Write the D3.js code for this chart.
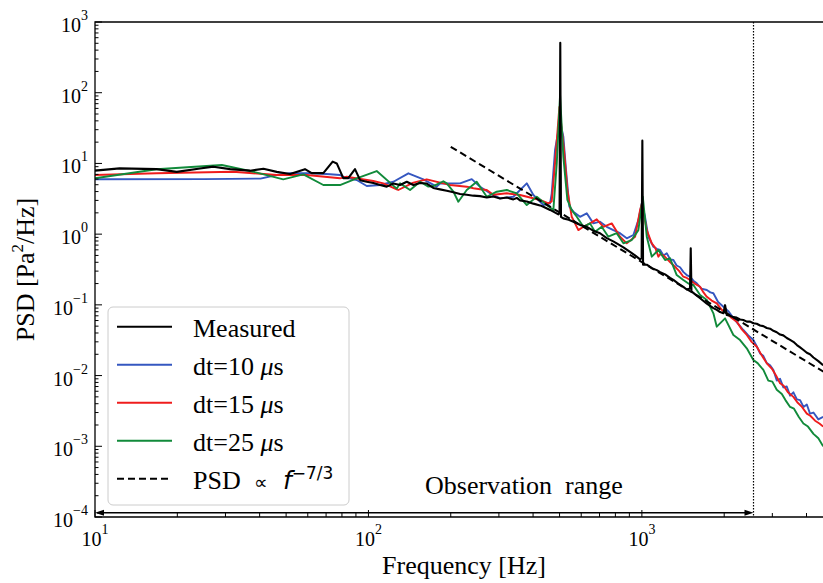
<!DOCTYPE html>
<html>
<head>
<meta charset="utf-8">
<script src="https://cdn.jsdelivr.net/npm/d3@7"></script>
<style>
body { margin: 0; background: #fff; }
text { font-family: "Liberation Serif", "Times New Roman", serif; fill: #000; }
</style>
</head>
<body>
<div id="chart"></div>
<script>
/* values: [frequency Hz, PSD Pa^2/Hz] */
const measured = [[10,7.9],[12.3,8.5],[16.8,8.3],[19.9,7.6],[24.2,8.5],[27.1,9.0],[31.2,8.3],[36.9,7.9],[41.3,8.4],[46.2,7.6],[51.7,7.1],[58.6,8.3],[62.0,7.3],[68.4,7.3],[74.0,10.6],[76.6,10.0],[80.9,6.2],[84.4,6.2],[89.3,8.3],[93.2,5.8],[98.6,5.5],[104.2,5.3],[110.3,4.95],[116.7,4.7],[123.4,5.2],[130.5,4.95],[138.1,5.5],[146,4.95],[154.5,5.3],[163.4,5.2],[172.7,4.5],[182.7,4.3],[193.4,4.1],[204.5,3.9],[216.3,3.7],[228.8,3.6],[241.9,3.5],[256,3.45],[270.9,3.3],[286.3,3.4],[302.9,3.2],[320.6,3.3],[338.8,3.1],[348.7,3.25],[358.5,3.0],[379.3,2.9],[401.1,2.7],[424.3,2.55],[436.3,2.44],[461.5,2.2],[474.5,2.08],[495,1.9],[500,2.0],[503,510],[506,1.75],[516,1.67],[540,1.6],[562,1.5],[594,1.35],[629,1.27],[664,1.12],[703,1.03],[744,0.88],[786,0.79],[809,0.74],[856,0.65],[905,0.56],[944,0.50],[985,0.44],[998,0.46],[1004,21],[1010,0.37],[1042,0.37],[1087,0.33],[1134,0.31],[1166,0.29],[1216,0.27],[1268,0.24],[1304,0.225],[1359,0.2],[1418,0.18],[1459,0.165],[1500,0.17],[1509,0.63],[1518,0.155],[1588,0.135],[1633,0.124],[1728,0.104],[1826,0.09],[1879,0.085],[1932,0.079],[1987,0.076],[2015,0.099],[2044,0.072],[2100,0.070],[2161,0.067],[2220,0.066],[2286,0.062],[2350,0.061],[2419,0.058],[2490,0.058],[2557,0.055],[2630,0.054],[2706,0.051],[2780,0.050],[2863,0.047],[2944,0.046],[3027,0.043],[3114,0.041],[3202,0.038],[3290,0.037],[3388,0.034],[3484,0.032],[3582,0.030],[3690,0.027],[3790,0.025],[3900,0.023],[4011,0.021],[4120,0.020],[4241,0.018],[4420,0.016],[4602,0.014]];

const dt10 = [[10,5.96],[25,6.0],[40.3,6.1],[46.2,6.86],[51.7,7.25],[62.9,7.25],[72.4,7.02],[78.7,6.86],[80.9,6.49],[90.6,5.83],[98.6,4.79],[110.3,4.95],[123.4,5.51],[140,7.25],[158.8,5.96],[177.7,4.69],[182.7,5.2],[216.3,5.23],[238.7,6.0],[256,4.69],[278.5,3.78],[302.9,3.21],[338.8,3.38],[379.3,5.23],[401.1,3.58],[436.3,2.58],[461.5,2.73],[468.1,3.78],[481.3,15.5],[502.1,40],[516.2,23.9],[528,8.07],[543,2.44],[561.6,2.08],[594,1.76],[628.6,1.97],[664.6,1.42],[703,1.5],[744,1.27],[786.6,1.14],[832,1.03],[880.6,0.873],[931,0.972],[971,1.58],[999,2.73],[1027,1.76],[1056,0.92],[1102,0.664],[1134,0.62],[1166,0.597],[1200,0.50],[1233,0.536],[1270,0.44],[1304,0.431],[1340,0.36],[1379,0.34],[1420,0.29],[1459,0.264],[1500,0.25],[1543,0.22],[1588,0.202],[1650,0.17],[1728,0.162],[1780,0.15],[1826,0.146],[1900,0.11],[1987,0.0941],[2080,0.08],[2161,0.065],[2250,0.054],[2350,0.0441],[2450,0.037],[2557,0.0318],[2630,0.026],[2706,0.0206],[2780,0.019],[2863,0.015],[2944,0.014],[3027,0.012],[3114,0.0085],[3202,0.009],[3292,0.0068],[3388,0.007],[3484,0.0052],[3582,0.0058],[3690,0.0046],[3790,0.0045],[3900,0.0036],[4011,0.0039],[4120,0.0029],[4241,0.003],[4420,0.0024],[4602,0.0026]];

const dt15 = [[10,6.86],[16.8,7.25],[32,7.64],[46.2,6.86],[59.5,6.86],[78.7,6.16],[83.3,6.49],[104.2,5.65],[113.4,5.23],[126.9,4.31],[128.6,4.21],[146,5.34],[163.4,5.96],[187.9,5.23],[198.9,4.95],[228.8,4.69],[241.9,4.45],[256,4.31],[270.9,4.21],[286.3,3.6],[320.6,3.78],[358.5,3.58],[424.3,3.04],[454.9,2.73],[468,2.9],[481.3,10],[499.2,63],[519,15.5],[534,4.21],[554,1.76],[585.7,1.14],[610.9,1.27],[646.4,1.42],[683.9,1.62],[723,1.27],[776,1.42],[832,0.92],[880.6,0.742],[944.4,0.92],[985,2.19],[1000,2.7],[1042,1.14],[1087,0.742],[1120,0.64],[1149,0.48],[1166,0.52],[1200,0.5],[1233,0.45],[1270,0.4],[1322,0.346],[1370,0.3],[1418,0.25],[1460,0.24],[1500,0.225],[1560,0.2],[1633,0.18],[1680,0.15],[1728,0.13],[1800,0.115],[1879,0.105],[1960,0.085],[2044,0.0759],[2130,0.065],[2224,0.0577],[2320,0.045],[2419,0.0375],[2520,0.03],[2633,0.0256],[2750,0.019],[2863,0.0149],[2990,0.0125],[3114,0.0096],[3202,0.0078],[3300,0.0072],[3420,0.0058],[3582,0.005],[3700,0.0042],[3850,0.0036],[4011,0.0029],[4130,0.0027],[4300,0.0023],[4460,0.0021],[4602,0.0019]];

const dt25 = [[10,6.16],[16.8,8.26],[29.1,9.5],[37.9,7.64],[48.8,5.96],[57.8,7.0],[68.4,4.95],[78.7,4.95],[90.6,6.16],[107.2,7.81],[126.9,4.4],[130.5,5.23],[142,4.21],[154.5,5.51],[165.6,4.7],[172.7,4.79],[187.9,5.6],[193.4,5.23],[204.5,4.0],[213.2,2.87],[228.8,4.21],[248.9,5.51],[270.9,3.38],[294.6,3.98],[320.6,4.21],[348.7,3.78],[379.3,2.58],[412.7,3.38],[449,2.58],[474.5,2.19],[488.3,10],[502.1,92.8],[516.2,12.4],[534,3.04],[554,2.19],[578,1.76],[611,1.27],[646,1.42],[674,1.08],[713,1.27],[754,0.92],[809,1.03],[856,0.742],[918,0.826],[971,1.14],[1008,3.38],[1042,0.92],[1087,0.48],[1149,0.597],[1216,0.431],[1268,0.455],[1341,0.264],[1418,0.225],[1480,0.2],[1543,0.191],[1633,0.138],[1728,0.117],[1826,0.0759],[1879,0.0491],[2015,0.0645],[2161,0.0375],[2286,0.0318],[2419,0.0243],[2557,0.0166],[2650,0.015],[2782,0.012],[2900,0.0085],[3000,0.0082],[3114,0.0063],[3250,0.0055],[3350,0.0045],[3484,0.0036],[3600,0.0034],[3750,0.0026],[3897,0.0021],[4050,0.0019],[4241,0.0015],[4420,0.0013],[4602,0.001]];

// reference slope line, PSD ~ f^-7/3 (end points)
const slopeLine = [[200,17.2],[5000,0.0094]];

const obsLimit = 2560;      // dotted line / end of observation range
const obsArrowY = 1.15e-4;  // arrow height in PSD units

const xMajor = [10, 100, 1000];
const yMajor = [1e-4, 1e-3, 1e-2, 1e-1, 1, 10, 100, 1000];

const width = 823, height = 583;
const margin = { top: 22, left: 95, right: -10, bottom: 66 };

const svg = d3.select("#chart")
    .append("svg")
    .attr("width", width)
    .attr("height", height);

const xScale = d3.scaleLog()
    .domain([10, 5000])
    .range([margin.left, width - margin.right]);

const yScale = d3.scaleLog()
    .domain([1e-4, 1e3])
    .range([height - margin.bottom, margin.top]);

const x0 = xScale.range()[0], x1 = xScale.range()[1];
const yb = yScale.range()[0], yt = yScale.range()[1];

svg.append("clipPath").attr("id", "plot")
    .append("rect")
    .attr("x", x0).attr("y", yt)
    .attr("width", x1 - x0).attr("height", yb - yt);

const line = d3.line()
    .x(d => xScale(d[0]))
    .y(d => yScale(d[1]));

const series = [
    { data: dt10, color: "#3557c0", w: 1.9 },
    { data: dt15, color: "#ef1c1c", w: 1.9 },
    { data: dt25, color: "#118a3a", w: 1.9 },
    { data: measured, color: "#000000", w: 2.1 }
];

const plot = svg.append("g").attr("clip-path", "url(#plot)");

plot.selectAll(".curve")
    .data(series)
    .enter()
    .append("path")
    .attr("class", "curve")
    .attr("fill", "none")
    .attr("stroke", d => d.color)
    .attr("stroke-width", d => d.w)
    .attr("stroke-linejoin", "round")
    .attr("d", d => line(d.data));

plot.append("path")
    .attr("fill", "none")
    .attr("stroke", "#000")
    .attr("stroke-width", 2)
    .attr("stroke-dasharray", "7,4")
    .attr("d", line(slopeLine));

// dotted limit of the observation range
plot.append("line")
    .attr("x1", xScale(obsLimit)).attr("x2", xScale(obsLimit))
    .attr("y1", yt).attr("y2", yb)
    .attr("stroke", "#000")
    .attr("stroke-width", 1.2)
    .attr("stroke-dasharray", "1.5,1.5");

// ticks (inward)
const xTicks = xScale.ticks().filter(v => v <= 5000);
const isMajor = v => Math.abs(Math.log10(v) - Math.round(Math.log10(v))) < 1e-6;

svg.selectAll(".xtick")
    .data(xTicks)
    .enter()
    .append("line")
    .attr("class", "xtick")
    .attr("x1", d => xScale(d)).attr("x2", d => xScale(d))
    .attr("y1", yb).attr("y2", d => yb - (isMajor(d) ? 7 : 4))
    .attr("stroke", "#000").attr("stroke-width", 1);

svg.selectAll(".ytick")
    .data(yScale.ticks())
    .enter()
    .append("line")
    .attr("class", "ytick")
    .attr("x1", x0).attr("x2", d => x0 + (isMajor(d) ? 7 : 3.5))
    .attr("y1", d => yScale(d)).attr("y2", d => yScale(d))
    .attr("stroke", "#000").attr("stroke-width", 1);

// spines
svg.append("path")
    .attr("fill", "none")
    .attr("stroke", "#000")
    .attr("stroke-width", 1.3)
    .attr("d", `M${width},${yt}H${x0}V${yb}H${width}`);

// tick labels 10^n
const expText = v => String(Math.round(Math.log10(v))).replace("-", "\u2212");

const xl = svg.selectAll(".xlabel")
    .data(xMajor)
    .enter()
    .append("text")
    .attr("class", "xlabel")
    .attr("x", d => xScale(d))
    .attr("y", yb + 29)
    .attr("text-anchor", "middle")
    .style("font-size", "20px");
xl.append("tspan").text("10");
xl.append("tspan").attr("dy", -12).style("font-size", "14px").text(d => expText(d));

const yl = svg.selectAll(".ylabel")
    .data(yMajor)
    .enter()
    .append("text")
    .attr("class", "ylabel")
    .attr("x", x0 - 7)
    .attr("y", d => yScale(d) + 10)
    .attr("text-anchor", "end")
    .style("font-size", "20px");
yl.append("tspan").text("10");
yl.append("tspan").attr("dy", -12).style("font-size", "14px").text(d => expText(d));

// axis titles
svg.append("text")
    .attr("x", (x0 + x1) / 2)
    .attr("y", 574)
    .attr("text-anchor", "middle")
    .style("font-size", "26px")
    .text("Frequency [Hz]");

const yt1 = svg.append("text")
    .attr("transform", `translate(34,${(yt + yb) / 2}) rotate(-90)`)
    .attr("text-anchor", "middle")
    .style("font-size", "26px");
yt1.append("tspan").text("PSD [Pa");
yt1.append("tspan").attr("dy", -11).style("font-size", "17px").text("2");
yt1.append("tspan").attr("dy", 11).text("/Hz]");

// observation range arrow
const ay = yScale(obsArrowY);
const ax0 = xScale(10), ax1 = xScale(obsLimit);
svg.append("line")
    .attr("x1", ax0 + 2).attr("x2", ax1 - 6)
    .attr("y1", ay).attr("y2", ay)
    .attr("stroke", "#000").attr("stroke-width", 1.5);
svg.append("path")
    .attr("fill", "#000")
    .attr("d", `M${ax1},${ay}L${ax1 - 9},${ay - 3}L${ax1 - 9},${ay + 3}Z`);
svg.append("path")
    .attr("fill", "#000")
    .attr("d", `M${ax0},${ay}L${ax0 + 9},${ay - 3}L${ax0 + 9},${ay + 3}Z`);

svg.append("text")
    .attr("x", 425)
    .attr("y", 494)
    .style("font-size", "26px")
    .style("white-space", "pre")
    .text("Observation  range");

// legend
const legend = svg.append("g");
legend.append("rect")
    .attr("x", 108).attr("y", 307)
    .attr("width", 241).attr("height", 198)
    .attr("rx", 5)
    .attr("fill", "#fff").attr("fill-opacity", 0.8)
    .attr("stroke", "#cccccc").attr("stroke-width", 1);

const legendKeys = [
    { color: "#000000", dash: null },
    { color: "#3557c0", dash: null, dt: "10" },
    { color: "#ef1c1c", dash: null, dt: "15" },
    { color: "#118a3a", dash: null, dt: "25" },
    { color: "#000000", dash: "7,4" }
];

legendKeys.forEach((k, i) => {
    const ly = 326.7 + i * 38;
    legend.append("line")
        .attr("x1", 117).attr("x2", 172)
        .attr("y1", ly).attr("y2", ly)
        .attr("stroke", k.color)
        .attr("stroke-width", 2)
        .attr("stroke-dasharray", k.dash);
    const t = legend.append("text")
        .attr("x", 193)
        .attr("y", ly + 10)
        .style("font-size", "26px");
    if (i === 0) {
        t.text("Measured");
    } else if (k.dt) {
        t.append("tspan").text("dt=" + k.dt + " ");
        t.append("tspan").style("font-style", "italic").text("\u03bc");
        t.append("tspan").text("s");
    } else {
        t.append("tspan").text("PSD");
        t.append("tspan").attr("x", 254)
            .style("font-family", "'DejaVu Sans'").style("font-size", "19px").text("\u221d");
        t.append("tspan").attr("x", 283)
            .style("font-family", "'DejaVu Sans'").style("font-style", "italic").style("font-size", "25px").text("f");
        t.append("tspan").attr("dy", -10)
            .style("font-family", "'DejaVu Sans'").style("font-size", "17px").text("\u22127/3");
    }
});
</script>
</body>
</html>
